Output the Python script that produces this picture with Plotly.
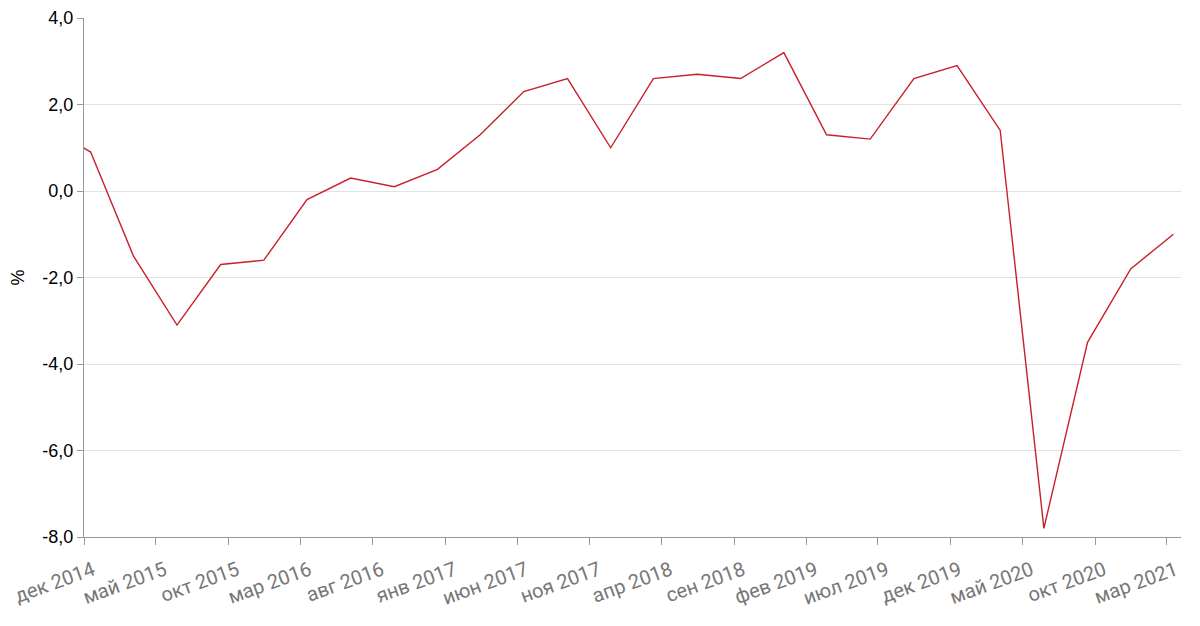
import plotly.graph_objects as go

# Quarterly data (mid last month of each quarter)
dates = ["2014-09-15", "2014-12-15",
         "2015-03-15", "2015-06-15", "2015-09-15", "2015-12-15",
         "2016-03-15", "2016-06-15", "2016-09-15", "2016-12-15",
         "2017-03-15", "2017-06-15", "2017-09-15", "2017-12-15",
         "2018-03-15", "2018-06-15", "2018-09-15", "2018-12-15",
         "2019-03-15", "2019-06-15", "2019-09-15", "2019-12-15",
         "2020-03-15", "2020-06-15", "2020-09-15", "2020-12-15",
         "2021-03-15"]
values = [1.5, 0.9,
          -1.5, -3.1, -1.7, -1.6,
          -0.2, 0.3, 0.1, 0.5,
          1.3, 2.3, 2.6, 1.0,
          2.6, 2.7, 2.6, 3.2,
          1.3, 1.2, 2.6, 2.9,
          1.4, -7.8, -3.5, -1.8,
          -1.0]

tick_dates = ["2014-12-01", "2015-05-01", "2015-10-01", "2016-03-01", "2016-08-01",
              "2017-01-01", "2017-06-01", "2017-11-01", "2018-04-01", "2018-09-01",
              "2019-02-01", "2019-07-01", "2019-12-01", "2020-05-01", "2020-10-01",
              "2021-03-01"]
tick_labels = ["дек 2014", "май 2015", "окт 2015", "мар 2016", "авг 2016",
               "янв 2017", "июн 2017", "ноя 2017", "апр 2018", "сен 2018",
               "фев 2019", "июл 2019", "дек 2019", "май 2020", "окт 2020",
               "мар 2021"]
y_ticks = [-8, -6, -4, -2, 0, 2, 4]
y_tick_labels = ["-8,0", "-6,0", "-4,0", "-2,0", "0,0", "2,0", "4,0"]

fig = go.Figure()
fig.add_trace(go.Scatter(
    x=dates, y=values, mode="lines",
    line=dict(color="#c8202a", width=1.4),
    hoverinfo="x+y", showlegend=False,
))

# page body has an 8px margin, so offsets are compensated here
fig.update_layout(
    width=1200, height=626,
    margin=dict(l=76, r=27, t=10, b=97),
    paper_bgcolor="white", plot_bgcolor="white",
    separators=", ",
    font=dict(family="Liberation Sans, Arial, sans-serif", size=18, color="#000"),
)
fig.update_xaxes(
    type="date",
    range=["2014-12-01", "2021-03-31"],
    tickmode="array", tickvals=tick_dates, ticktext=tick_labels,
    tickangle=-20,
    tickfont=dict(family="Roboto, sans-serif", size=20, color="#777777"),
    ticklabeloverflow="allow",
    ticklabelshift=9, ticklabelstandoff=6,
    showgrid=False,
    showline=True, linecolor="#999999", linewidth=1,
    ticks="outside", ticklen=7, tickcolor="#999999",
    zeroline=False, automargin=False,
)
fig.update_yaxes(
    range=[-8, 4],
    tickmode="array", tickvals=y_ticks, ticktext=y_tick_labels,
    tickfont=dict(family="Liberation Sans, Arial, sans-serif", size=18, color="#000"),
    showgrid=True, gridcolor="#e2e2e2", gridwidth=1,
    showline=True, linecolor="#999999", linewidth=1,
    ticks="outside", ticklen=6, tickcolor="#999999",
    zeroline=False, automargin=False,
    title=dict(text="%", font=dict(size=18, color="#000"), standoff=15),
)

fig.write_html("out.html")
